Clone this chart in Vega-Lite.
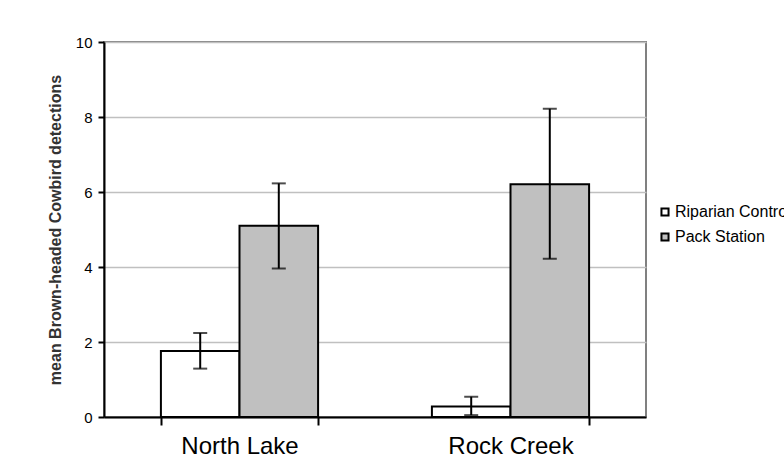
{
  "$schema": "https://vega.github.io/schema/vega-lite/v6.json",
  "autosize": {"type": "none"},
  "padding": {"left": 104, "top": 42, "right": 138, "bottom": 56},
  "width": 542,
  "height": 375,
  "background": "white",
  "data": {
    "values": [
      {"site": "North Lake", "treatment": "Riparian Control", "mean": 1.76, "lo": 1.29, "hi": 2.24},
      {"site": "North Lake", "treatment": "Pack Station", "mean": 5.1, "lo": 3.96, "hi": 6.23},
      {"site": "Rock Creek", "treatment": "Riparian Control", "mean": 0.28, "lo": 0.05, "hi": 0.54},
      {"site": "Rock Creek", "treatment": "Pack Station", "mean": 6.21, "lo": 4.22, "hi": 8.22}
    ]
  },
  "encoding": {
    "x": {
      "field": "site",
      "type": "nominal",
      "sort": ["North Lake", "Rock Creek"],
      "scale": {"paddingInner": 0.42, "paddingOuter": 0.21},
      "axis": {
        "title": null,
        "labelAngle": 0,
        "labelFont": "Liberation Sans",
        "labelFontSize": 24,
        "labelColor": "black",
        "labelPadding": 9,
        "domainColor": "black",
        "domainWidth": 2,
        "tickColor": "black",
        "tickWidth": 2,
        "tickSize": 8,
        "tickBand": "extent",
        "grid": false
      }
    },
    "xOffset": {
      "field": "treatment",
      "type": "nominal",
      "sort": ["Riparian Control", "Pack Station"],
      "scale": {"paddingInner": 0, "paddingOuter": 0}
    }
  },
  "layer": [
    {
      "mark": {"type": "bar", "stroke": "black", "strokeWidth": 2},
      "encoding": {
        "y": {
          "field": "mean",
          "type": "quantitative",
          "scale": {"domain": [0, 10], "nice": false},
          "axis": {
            "title": "mean Brown-headed Cowbird detections",
            "titleFont": "Liberation Sans",
            "titleFontSize": 16,
            "titleFontWeight": "bold",
            "titleColor": "#333333",
            "titlePadding": 12,
            "values": [0, 2, 4, 6, 8, 10],
            "labelFont": "Liberation Sans",
            "labelFontSize": 15,
            "labelColor": "black",
            "labelPadding": 6,
            "domainColor": "black",
            "domainWidth": 2,
            "tickColor": "black",
            "tickWidth": 2,
            "tickSize": 6,
            "grid": true,
            "gridColor": "#c0c0c0",
            "gridWidth": 1.5
          }
        },
        "fill": {
          "field": "treatment",
          "type": "nominal",
          "scale": {"domain": ["Riparian Control", "Pack Station"], "range": ["white", "#c0c0c0"]},
          "legend": {
            "title": null,
            "orient": "none",
            "legendX": 553,
            "legendY": 162,
            "symbolType": "square",
            "symbolSize": 50,
            "symbolStrokeColor": "black",
            "symbolStrokeWidth": 2,
            "labelFont": "Liberation Sans",
            "labelFontSize": 16,
            "labelColor": "black",
            "labelOffset": 2,
            "rowPadding": 9,
            "labelLimit": 300
          }
        }
      }
    },
    {
      "mark": {"type": "rule", "color": "black", "strokeWidth": 2},
      "encoding": {
        "y": {"field": "lo", "type": "quantitative"},
        "y2": {"field": "hi"}
      }
    },
    {
      "mark": {"type": "tick", "color": "black", "thickness": 2, "size": 14},
      "encoding": {"y": {"field": "lo", "type": "quantitative"}}
    },
    {
      "mark": {"type": "tick", "color": "black", "thickness": 2, "size": 14},
      "encoding": {"y": {"field": "hi", "type": "quantitative"}}
    }
  ],
  "config": {
    "view": {"stroke": "#808080", "strokeWidth": 2},
    "font": "Liberation Sans"
  }
}
